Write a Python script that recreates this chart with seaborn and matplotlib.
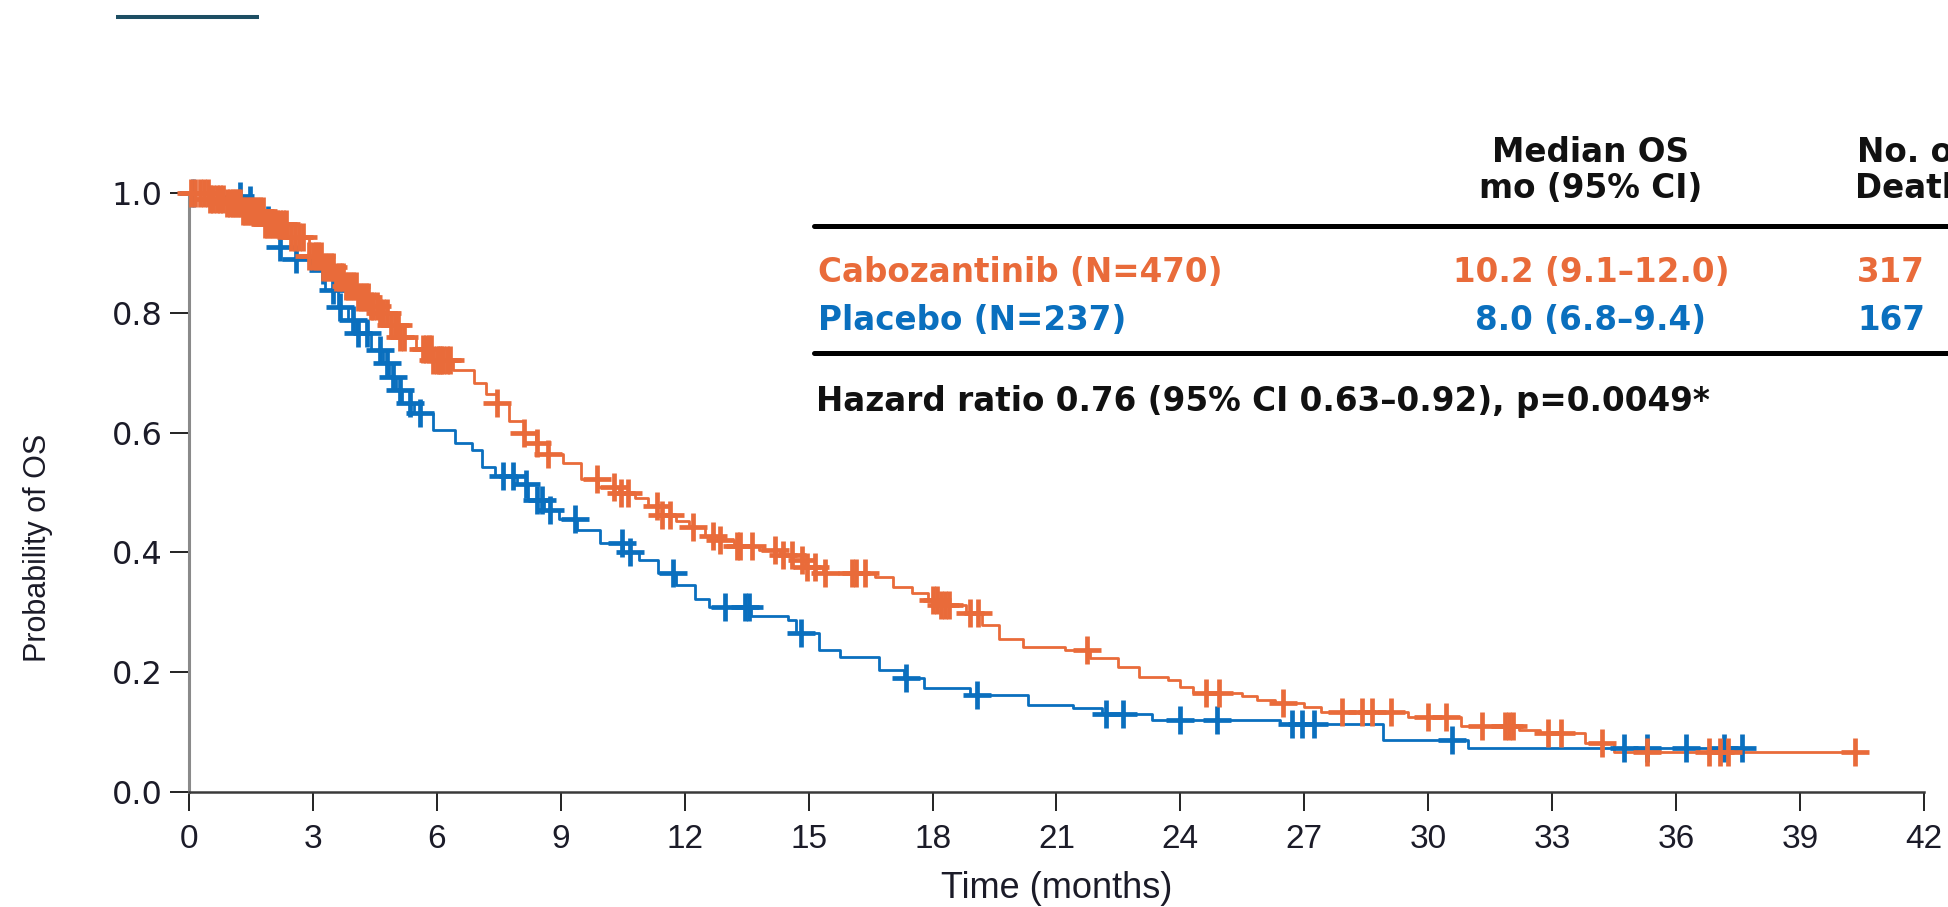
import numpy as np
import pandas as pd
import matplotlib
matplotlib.use("Agg")
import matplotlib.pyplot as plt
from matplotlib.lines import Line2D
import seaborn as sns

# Kaplan-Meier overall survival, step points (months, probability)
cabo_time = [0.0, 0.5, 0.9, 1.3, 1.8, 2.4, 2.9, 3.2, 3.5, 3.8, 4.1, 4.4, 4.6, 4.9,
             5.1, 5.5, 5.9, 6.4, 6.9, 7.2, 7.45, 7.75, 8.1, 8.4, 8.7, 9.05, 9.5,
             9.9, 10.4, 10.8, 11.1, 11.45, 11.8, 12.1, 12.5, 12.8, 13.2, 13.8,
             14.3, 14.6, 14.9, 15.35, 16.6, 17.05, 17.5, 17.9, 18.15, 18.8, 19.2,
             19.6, 20.2, 21.2, 21.8, 22.5, 23.0, 23.7, 24.0, 24.3, 25.5, 25.85,
             26.3, 27.0, 27.4, 29.5, 30.8, 32.2, 32.7, 33.8, 34.5, 40.35]
cabo_surv = [1.000, 0.990, 0.983, 0.970, 0.948, 0.927, 0.895, 0.877, 0.860, 0.845,
             0.827, 0.812, 0.800, 0.780, 0.760, 0.740, 0.722, 0.704, 0.682, 0.665,
             0.649, 0.620, 0.600, 0.582, 0.565, 0.549, 0.522, 0.510, 0.500, 0.490,
             0.478, 0.462, 0.452, 0.442, 0.428, 0.420, 0.410, 0.404, 0.395, 0.388,
             0.376, 0.366, 0.359, 0.343, 0.332, 0.320, 0.312, 0.298, 0.278, 0.256,
             0.242, 0.237, 0.223, 0.209, 0.192, 0.187, 0.175, 0.165, 0.160, 0.154,
             0.149, 0.142, 0.134, 0.125, 0.111, 0.104, 0.099, 0.081, 0.067, 0.067]

plac_time = [0.0, 0.7, 1.3, 1.8, 2.2, 2.6, 2.95, 3.3, 3.6, 3.85, 4.05, 4.4, 4.7,
             4.85, 5.0, 5.15, 5.45, 5.9, 6.45, 6.85, 7.1, 7.4, 7.95, 8.2, 8.6,
             8.95, 9.4, 9.95, 10.5, 10.9, 11.35, 11.8, 12.25, 12.6, 13.6, 14.5,
             14.7, 15.25, 15.75, 16.7, 17.3, 17.8, 18.9, 20.3, 21.4, 22.1, 23.3,
             26.4, 28.9, 30.95, 37.6]
plac_surv = [1.000, 0.995, 0.988, 0.955, 0.910, 0.890, 0.871, 0.838, 0.810, 0.788,
             0.766, 0.738, 0.716, 0.693, 0.671, 0.650, 0.632, 0.604, 0.582, 0.571,
             0.543, 0.527, 0.515, 0.488, 0.471, 0.455, 0.437, 0.415, 0.400, 0.387,
             0.365, 0.345, 0.323, 0.309, 0.293, 0.287, 0.265, 0.237, 0.226, 0.204,
             0.190, 0.173, 0.162, 0.145, 0.140, 0.131, 0.121, 0.113, 0.087, 0.073,
             0.073]

# Censoring times (months)
cabo_censor = [0.05, 0.15, 0.27, 0.36, 0.45, 0.52, 0.59, 0.67, 0.75, 0.83, 0.91,
               0.99, 1.06, 1.12, 1.18, 1.24, 1.3, 1.36, 1.42, 1.48, 1.54, 1.6, 1.66,
               1.72, 1.78, 1.84, 1.9, 1.96, 2.02, 2.08, 2.14, 2.2, 2.28, 2.36, 2.46,
               2.57, 2.67, 2.77, 2.9, 3.01, 3.07, 3.13, 3.19, 3.25, 3.31, 3.37, 3.43,
               3.49, 3.56, 3.62, 3.68, 3.74, 3.8, 3.86, 3.92, 3.98, 4.04, 4.1, 4.16,
               4.22, 4.28, 4.34, 4.4, 4.46, 4.54, 4.62, 4.7, 4.79, 4.9, 4.99, 5.05,
               5.11, 5.2, 5.67, 5.74, 5.8, 5.86, 5.91, 6.0, 6.05, 6.1, 6.16, 6.24,
               6.32, 7.45, 8.1, 8.42, 8.7, 9.87, 10.3, 10.45, 10.63, 11.32, 11.45,
               11.64, 12.2, 12.69, 12.85, 13.26, 13.34, 13.62, 14.19, 14.39, 14.59,
               14.83, 14.95, 15.15, 15.39, 16.04, 16.15, 16.36, 18.0, 18.1, 18.2,
               18.3, 18.4, 18.9, 19.1, 21.73, 24.63, 24.93, 26.49, 27.9, 28.4, 28.64,
               29.1, 30.0, 30.44, 31.3, 31.85, 31.95, 32.05, 32.9, 33.22, 34.2, 35.3,
               36.79, 37.07, 37.25, 40.32]
plac_censor = [0.1, 1.24, 1.48, 1.92, 2.2, 2.6, 3.25, 3.49, 3.65, 3.98, 4.1, 4.3,
               4.62, 4.79, 4.95, 5.1, 5.35, 5.59, 7.61, 7.85, 8.17, 8.42, 8.54, 8.74,
               9.34, 10.47, 10.67, 11.72, 12.97, 13.45, 13.55, 14.81, 17.35, 19.08,
               22.2, 22.6, 24.0, 24.88, 26.69, 26.95, 27.23, 30.58, 34.73, 35.3,
               36.23, 37.16, 37.6]

x_ticks = list(range(0, 43, 3))
y_ticks = [0.0, 0.2, 0.4, 0.6, 0.8, 1.0]

ORANGE = "#E96B3A"
BLUE = "#0A6FBE"
W, H = 1949, 907


def survival_at(times, surv, t):
    idx = np.searchsorted(np.asarray(times), np.asarray(t), side="right") - 1
    return np.asarray(surv)[idx]


def fx(px):
    return px / W


def fy(py):
    return 1 - py / H


sns.set_theme(style="white")
plt.rcParams["font.family"] = ["Liberation Sans", "DejaVu Sans"]

fig = plt.figure(figsize=(W / 100, H / 100), dpi=100)
ax = fig.add_axes([fx(189), fy(792), fx(1924) - fx(189), fy(193) - fy(792)])

curves = pd.concat([
    pd.DataFrame({"time": plac_time, "surv": plac_surv, "arm": "Placebo"}),
    pd.DataFrame({"time": cabo_time, "surv": cabo_surv, "arm": "Cabozantinib"}),
], ignore_index=True)
censors = pd.concat([
    pd.DataFrame({"time": plac_censor,
                  "surv": survival_at(plac_time, plac_surv, plac_censor),
                  "arm": "Placebo"}),
    pd.DataFrame({"time": cabo_censor,
                  "surv": survival_at(cabo_time, cabo_surv, cabo_censor),
                  "arm": "Cabozantinib"}),
], ignore_index=True)
palette = {"Placebo": BLUE, "Cabozantinib": ORANGE}

sns.lineplot(data=curves, x="time", y="surv", hue="arm", palette=palette,
             estimator=None, sort=True, drawstyle="steps-post", linewidth=2.0,
             legend=False, ax=ax, clip_on=False)
for arm in ["Placebo", "Cabozantinib"]:
    sub = censors[censors["arm"] == arm]
    sns.scatterplot(data=sub, x="time", y="surv", color=palette[arm], marker="+",
                    s=380, linewidth=3.4, legend=False, ax=ax, clip_on=False,
                    zorder=4)

ax.set_xlim(0, 42)
ax.set_ylim(0, 1.0)
ax.set_xticks(x_ticks)
ax.set_yticks(y_ticks)
ax.set_xticklabels([str(v) for v in x_ticks])
ax.set_yticklabels([f"{v:.1f}" for v in y_ticks])

for side in ["top", "right"]:
    ax.spines[side].set_visible(False)
ax.spines["left"].set_color("#8a8a8a")
ax.spines["left"].set_linewidth(2.2)
ax.spines["bottom"].set_color("#3a3a3a")
ax.spines["bottom"].set_linewidth(1.8)

ax.tick_params(axis="x", direction="out", length=14, width=1.4, color="#222222",
               pad=9, labelsize=24, labelcolor="#1b1b28", bottom=True)
ax.tick_params(axis="y", direction="out", length=14, width=1.4, color="#222222",
               pad=5, labelsize=23, labelcolor="#1b1b28", left=True)
for lab in ax.get_yticklabels():
    lab.set_family("DejaVu Sans")

ax.set_xlabel("Time (months)", fontsize=26, color="#1b1b28")
ax.xaxis.label.set_va("center")
ax.xaxis.set_label_coords(0.5, (792 - 889) / 599)
ax.set_ylabel("Probability of OS", fontsize=22, color="#1b1b28")
ax.yaxis.label.set_va("center")
ax.yaxis.set_label_coords((38 - 189) / 1735, (792 - 548) / 599)

# short accent bar at the top left
fig.add_artist(Line2D([fx(116), fx(259)], [fy(17), fy(17)], color="#1d4e63",
                      linewidth=2.9, solid_capstyle="butt"))

# summary table
tab = dict(family="DejaVu Sans", weight="bold", fontsize=23.5)
fig.text(fx(1591), fy(153), "Median OS", ha="center", va="center", color="#111111", **tab)
fig.text(fx(1591), fy(188), "mo (95% CI)", ha="center", va="center", color="#111111", **tab)
fig.text(fx(1857), fy(153), "No. of", ha="left", va="center", color="#111111", **tab)
fig.text(fx(1855), fy(188), "Deaths", ha="left", va="center", color="#111111", **tab)
fig.add_artist(Line2D([fx(814), 1.0], [fy(226), fy(226)], color="black", linewidth=3.6))
fig.text(fx(818), fy(273), "Cabozantinib (N=470)", ha="left", va="center", color=ORANGE, **tab)
fig.text(fx(1591), fy(273), "10.2 (9.1\u201312.0)", ha="center", va="center", color=ORANGE, **tab)
fig.text(fx(1857), fy(273), "317", ha="left", va="center", color=ORANGE, **tab)
fig.text(fx(818), fy(320), "Placebo (N=237)", ha="left", va="center", color=BLUE, **tab)
fig.text(fx(1591), fy(320), "8.0 (6.8\u20139.4)", ha="center", va="center", color=BLUE, **tab)
fig.text(fx(1857), fy(320), "167", ha="left", va="center", color=BLUE, **tab)
fig.add_artist(Line2D([fx(814), 1.0], [fy(353), fy(353)], color="black", linewidth=3.6))
fig.text(fx(816), fy(401), "Hazard ratio 0.76 (95% CI 0.63\u20130.92), p=0.0049*",
         ha="left", va="center", color="#111111", **tab)

fig.savefig("out.png", dpi=100)
